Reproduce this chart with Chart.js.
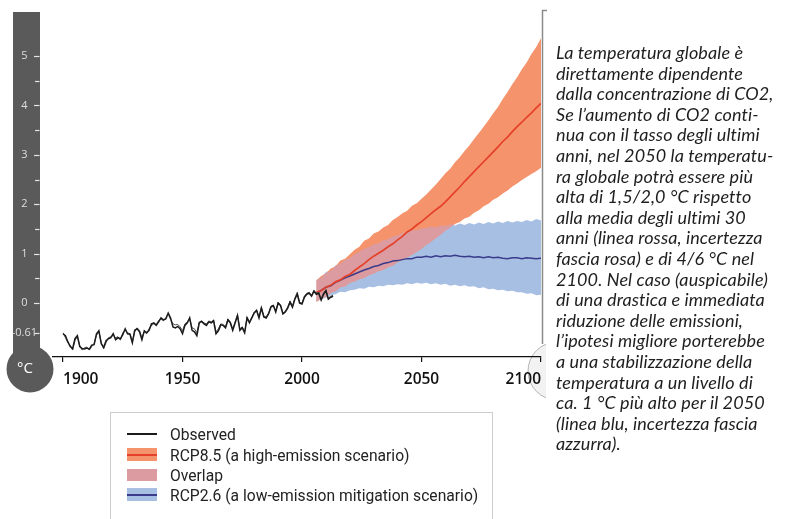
<!DOCTYPE html>
<html>
<head>
<meta charset="utf-8">
<script src="https://cdn.jsdelivr.net/npm/chart.js@4.4.1/dist/chart.umd.min.js"></script>
<style>
  html, body { margin:0; padding:0; background:#fff; }
  #wrap { position:relative; width:789px; height:519px; overflow:hidden; background:#fff; }
  #c { position:absolute; left:0; top:0; }
  #legend { position:absolute; left:110px; top:412px; width:383px; height:130px; border:1px solid #cdcdcd; box-sizing:border-box; }
  .lrow { position:absolute; left:0; height:20px; width:380px; }
  .sw { position:absolute; left:16px; width:30px; }
  .lt { position:absolute; left:59px; top:0; line-height:20px; font-family:'Roboto', sans-serif; font-size:17px; color:#222; white-space:nowrap; transform-origin:left center; transform:scaleX(0.92); }
  #note { position:absolute; left:556px; top:42px; font-family:'Lato', sans-serif; font-style:italic; font-size:18px; letter-spacing:0.1px; line-height:20.6px; color:#1e1e1e; white-space:nowrap; }
</style>
</head>
<body>
<div id="wrap">
  <canvas id="c" width="789" height="519"></canvas>
  <div id="legend"></div>
  <div id="note"></div>
</div>
<script>
// ---------- DATA ----------
const obsStartYear = 1900, obsEndYear = 2013;
const observedA = [
 -0.62,-0.66,-0.78,-0.88,-0.92,-0.72,-0.66,-0.88,-0.92,-0.93,
 -0.91,-0.93,-0.85,-0.84,-0.62,-0.56,-0.82,-0.90,-0.76,-0.72,
 -0.70,-0.62,-0.74,-0.70,-0.72,-0.64,-0.52,-0.62,-0.63,-0.80,
 -0.55,-0.52,-0.58,-0.74,-0.56,-0.60,-0.55,-0.42,-0.40,-0.45,
 -0.38,-0.30,-0.34,-0.32,-0.20,-0.30,-0.48,-0.50,-0.47,-0.52,
 -0.62,-0.45,-0.40,-0.30,-0.55,-0.58,-0.66,-0.40,-0.37,-0.42,
 -0.45,-0.38,-0.40,-0.36,-0.62,-0.56,-0.44,-0.45,-0.50,-0.34,
 -0.40,-0.55,-0.40,-0.25,-0.55,-0.50,-0.60,-0.30,-0.40,-0.30,
 -0.20,-0.15,-0.30,-0.10,-0.28,-0.30,-0.22,-0.08,-0.05,-0.18,
  0.00,-0.05,-0.22,-0.18,-0.10, 0.02,-0.08, 0.08, 0.18, 0.00,
 -0.02, 0.12, 0.18, 0.20, 0.14, 0.24, 0.18, 0.20, 0.06, 0.18,
  0.25, 0.08, 0.12, 0.14
];
const observedB = [
 -0.60,-0.70,-0.80,-0.85,-0.95,-0.75,-0.68,-0.86,-0.95,-0.90,
 -0.89,-0.95,-0.88,-0.82,-0.65,-0.58,-0.80,-0.92,-0.80,-0.70,
 -0.68,-0.65,-0.70,-0.68,-0.75,-0.60,-0.55,-0.60,-0.62,-0.78,
 -0.58,-0.50,-0.55,-0.70,-0.58,-0.62,-0.52,-0.45,-0.42,-0.43,
 -0.35,-0.32,-0.36,-0.30,-0.22,-0.33,-0.42,-0.44,-0.43,-0.48,
 -0.56,-0.42,-0.38,-0.32,-0.50,-0.52,-0.60,-0.38,-0.36,-0.40,
 -0.42,-0.36,-0.38,-0.34,-0.58,-0.52,-0.42,-0.43,-0.48,-0.32,
 -0.38,-0.52,-0.38,-0.24,-0.52,-0.48,-0.58,-0.28,-0.38,-0.28,
 -0.18,-0.14,-0.28,-0.08,-0.26,-0.28,-0.20,-0.06,-0.04,-0.16,
  0.02,-0.03,-0.20,-0.16,-0.08, 0.04,-0.06, 0.10, 0.22, 0.02,
  0.00, 0.14, 0.20, 0.22, 0.16, 0.26, 0.20, 0.22, 0.08, 0.20,
  0.27, 0.10, 0.14, 0.16
];
const projStartYear = 2006, projEndYear = 2100, projStep = 2;
const rcp85Mean = [
 0.22,0.25,0.32,0.36,0.43,0.47,0.54,0.58,0.66,0.73,0.80,0.88,0.95,1.01,1.07,1.14,
 1.20,1.28,1.35,1.44,1.50,1.58,1.65,1.73,1.81,1.89,1.96,2.05,2.15,2.25,2.35,2.46,
 2.56,2.66,2.76,2.86,2.96,3.06,3.16,3.27,3.36,3.47,3.57,3.66,3.76,3.85,3.95,4.04
];
const rcp85High = [
 0.46,0.55,0.60,0.70,0.74,0.86,0.90,0.99,1.08,1.14,1.26,1.31,1.41,1.45,1.53,1.58,
 1.68,1.74,1.82,1.87,1.97,2.02,2.11,2.20,2.30,2.40,2.51,2.63,2.72,2.85,2.95,3.08,
 3.19,3.32,3.44,3.57,3.70,3.84,3.97,4.13,4.27,4.43,4.57,4.73,4.87,5.04,5.18,5.36
];
const rcp85Low = [
 0.02,0.10,0.13,0.21,0.24,0.32,0.34,0.41,0.44,0.49,0.51,0.57,0.60,0.65,0.67,0.73,
 0.76,0.83,0.87,0.93,0.98,1.04,1.10,1.18,1.24,1.32,1.39,1.47,1.53,1.60,1.64,1.71,
 1.75,1.83,1.88,1.96,2.01,2.09,2.14,2.22,2.28,2.36,2.42,2.49,2.55,2.61,2.67,2.74
];
const rcp26Mean = [
 0.20,0.26,0.32,0.35,0.42,0.46,0.51,0.55,0.59,0.63,0.67,0.70,0.74,0.76,0.80,0.82,
 0.85,0.86,0.88,0.90,0.90,0.93,0.93,0.95,0.93,0.96,0.94,0.96,0.95,0.97,0.95,0.94,
 0.95,0.93,0.94,0.92,0.94,0.92,0.93,0.91,0.90,0.92,0.92,0.90,0.92,0.91,0.90,0.91
];
const rcp26High = [
 0.47,0.52,0.63,0.66,0.76,0.80,0.88,0.91,0.99,1.04,1.10,1.13,1.19,1.21,1.27,1.29,
 1.35,1.37,1.42,1.43,1.47,1.48,1.51,1.52,1.55,1.53,1.57,1.56,1.59,1.57,1.61,1.58,
 1.62,1.59,1.63,1.60,1.64,1.61,1.65,1.62,1.66,1.63,1.66,1.64,1.68,1.65,1.70,1.67
];
const rcp26Low = [
 0.03,0.08,0.11,0.16,0.18,0.23,0.22,0.26,0.27,0.30,0.29,0.33,0.32,0.35,0.34,0.37,
 0.36,0.38,0.37,0.40,0.38,0.41,0.39,0.41,0.38,0.40,0.37,0.39,0.35,0.37,0.34,0.36,
 0.33,0.34,0.30,0.32,0.28,0.29,0.26,0.27,0.24,0.25,0.22,0.22,0.19,0.20,0.16,0.17
];
const xTickValues = [1900, 1950, 2000, 2050, 2100];
const yTickValues = [5, 4, 3, 2, 1, 0, -0.61];
const yTickLabels = ['5', '4', '3', '2', '1', '0', '-0.61'];
const yMinorTicks = [4.5, 3.5, 2.5, 1.5, 0.5];
const unitLabel = '°C';
const legendLabels = ['Observed', 'RCP8.5 (a high-emission scenario)', 'Overlap', 'RCP2.6 (a low-emission mitigation scenario)'];
const noteLines = [
 "La temperatura globale è",
 "direttamente dipendente",
 "dalla concentrazione di CO2,",
 "Se l’aumento di CO2 conti-",
 "nua con il tasso degli ultimi",
 "anni, nel 2050 la temperatu-",
 "ra globale potrà essere più",
 "alta di 1,5/2,0 °C rispetto",
 "alla media degli ultimi 30",
 "anni (linea rossa, incertezza",
 "fascia rosa) e di 4/6 °C nel",
 "2100. Nel caso (auspicabile)",
 "di una drastica e immediata",
 "riduzione delle emissioni,",
 "l’ipotesi migliore porterebbe",
 "a una stabilizzazione della",
 "temperatura a un livello di",
 "ca. 1 °C più alto per il 2050",
 "(linea blu, incertezza fascia",
 "azzurra)."
];

// ---------- COLOURS ----------
const C = {
  obsA:'#1b1b1b', obsB:'#505050',
  redLine:'#e5412a', orange:'#f5946c',
  blueLine:'#3a3b8a', blue:'#a8bfe4',
  overlap:'#dc9ba0',
  thermo:'#5a5a5a'
};

// ---------- BUILD ----------
const obsYears = []; for (let y = obsStartYear; y <= obsEndYear; y++) obsYears.push(y);
const projYears = []; for (let y = projStartYear; y <= projEndYear; y += projStep) projYears.push(y);
const pts = (xs, ys) => xs.map((x, i) => ({ x: x, y: ys[i] }));
const overlapLow = rcp85Low.map((v, i) => Math.max(v, rcp26Low[i]));
const overlapHigh = overlapLow.map((v, i) => Math.max(v, Math.min(rcp85High[i], rcp26High[i])));

const line = (data, color, width, order) => ({ data, borderColor: color, borderWidth: width, pointRadius: 0, fill: false, tension: 0, order });
const edge = (data, order, fillTarget, bg) => ({ data, borderColor: 'rgba(0,0,0,0)', borderWidth: 0, pointRadius: 0, tension: 0, order,
  fill: fillTarget === null ? false : { target: fillTarget }, backgroundColor: bg || 'rgba(0,0,0,0)' });

const datasets = [
  line(pts(obsYears, observedA), C.obsA, 1.5, 0),              // 0
  line(pts(obsYears, observedB), C.obsB, 1.0, 1),              // 1
  line(pts(projYears, rcp85Mean), C.redLine, 1.7, 2),          // 2
  line(pts(projYears, rcp26Mean), C.blueLine, 1.5, 3),         // 3
  edge(pts(projYears, overlapLow), 4, null),                   // 4
  edge(pts(projYears, overlapHigh), 4, 4, C.overlap),          // 5
  edge(pts(projYears, rcp85Low), 5, null),                     // 6
  edge(pts(projYears, rcp85High), 5, 6, C.orange),             // 7
  edge(pts(projYears, rcp26Low), 6, null),                     // 8
  edge(pts(projYears, rcp26High), 6, 8, C.blue)                // 9
];

const decor = {
  id: 'decor',
  beforeDraw(chart) {
    const ctx = chart.ctx, ys = chart.scales.y, ca = chart.chartArea;
    ctx.save();
    // right-hand bulb (partly hidden)
    ctx.save();
    ctx.beginPath(); ctx.rect(0, 0, 546, 519); ctx.clip();
    ctx.beginPath(); ctx.arc(557, 371, 29, 0, Math.PI * 2);
    ctx.fillStyle = '#f2f2f2'; ctx.fill();
    ctx.strokeStyle = '#b4b4b4'; ctx.lineWidth = 1; ctx.stroke();
    ctx.restore();
    // right vertical line
    ctx.strokeStyle = '#8a8a8a'; ctx.lineWidth = 1.5;
    ctx.beginPath(); ctx.moveTo(ca.right + 1.5, ca.top - 2); ctx.lineTo(ca.right + 1.5, 344); ctx.stroke();
    ctx.beginPath(); ctx.moveTo(ca.right + 1, ca.top - 1.5); ctx.lineTo(ca.right + 6, ca.top - 1.5); ctx.stroke();
    // thermometer
    ctx.fillStyle = C.thermo;
    ctx.fillRect(13, ca.top, 27, 361 - ca.top);
    ctx.beginPath(); ctx.arc(30, 369, 23.5, 0, Math.PI * 2); ctx.fill();
    ctx.strokeStyle = '#e4e4e4'; ctx.lineWidth = 1.2;
    yTickValues.forEach(v => { const p = Math.round(ys.getPixelForValue(v)) + 0.5; ctx.beginPath(); ctx.moveTo(34, p); ctx.lineTo(39.5, p); ctx.stroke(); });
    yMinorTicks.forEach(v => { const p = Math.round(ys.getPixelForValue(v)) + 0.5; ctx.beginPath(); ctx.moveTo(35, p); ctx.lineTo(39.5, p); ctx.stroke(); });
    ctx.fillStyle = '#ffffff';
    ctx.font = '15px "Open Sans", sans-serif';
    ctx.textAlign = 'center'; ctx.textBaseline = 'middle';
    ctx.fillText(unitLabel, 25, 369);
    ctx.restore();
  }
};

new Chart(document.getElementById('c'), {
  type: 'line',
  data: { datasets },
  options: {
    responsive: false, animation: false, events: [],
    devicePixelRatio: 1,
    layout: { padding: { left: 0, right: 248, top: 12, bottom: 132 } },
    plugins: { legend: { display: false }, tooltip: { enabled: false } },
    scales: {
      x: {
        type: 'linear', min: 1895.8, max: 2100,
        afterBuildTicks: s => { s.ticks = xTickValues.map(v => ({ value: v })); },
        afterFit: s => { s.height = 30; s.paddingLeft = 0; s.paddingRight = 0; },
        border: { display: true, color: '#111', width: 1.3 },
        grid: { display: true, drawOnChartArea: false, drawTicks: true, tickLength: 5, color: '#111', lineWidth: 1.2 },
        ticks: { autoSkip: false, maxRotation: 0, align: 'inner', padding: 8, color: '#111',
                 font: { family: 'Open Sans', size: 15.5, weight: '600' }, callback: v => String(v) }
      },
      y: {
        type: 'linear', min: -1.09, max: 5.89,
        afterBuildTicks: s => { s.ticks = yTickValues.map(v => ({ value: v })); },
        afterFit: s => { s.width = 53; s.paddingTop = 0; s.paddingBottom = 0; },
        border: { display: false },
        grid: { display: false, drawTicks: false },
        ticks: { autoSkip: false, crossAlign: 'center', padding: 16, color: '#dedede',
                 font: { family: 'Open Sans', size: 11 },
                 callback: (v, i) => yTickLabels[i] }
      }
    }
  },
  plugins: [decor]
});

// ---------- LEGEND (HTML) ----------
const lg = document.getElementById('legend');
const rowTops = [11, 32, 52, 72];
const swatches = [
  '<div class="sw" style="top:9px;height:2px;background:' + C.obsA + '"></div>',
  '<div class="sw" style="top:3px;height:13px;background:' + C.orange + '"><div style="position:absolute;left:0;right:0;top:5.5px;height:2px;background:' + C.redLine + '"></div></div>',
  '<div class="sw" style="top:4px;height:12px;background:' + C.overlap + '"></div>',
  '<div class="sw" style="top:3px;height:13px;background:' + C.blue + '"><div style="position:absolute;left:0;right:0;top:5.5px;height:2px;background:' + C.blueLine + '"></div></div>'
];
legendLabels.forEach((t, i) => {
  const r = document.createElement('div');
  r.className = 'lrow'; r.style.top = rowTops[i] + 'px';
  r.innerHTML = swatches[i] + '<div class="lt"></div>';
  r.querySelector('.lt').textContent = t;
  lg.appendChild(r);
});

// ---------- NOTE (HTML) ----------
const note = document.getElementById('note');
noteLines.forEach(l => { const d = document.createElement('div'); d.textContent = l; note.appendChild(d); });
</script>
</body>
</html>
